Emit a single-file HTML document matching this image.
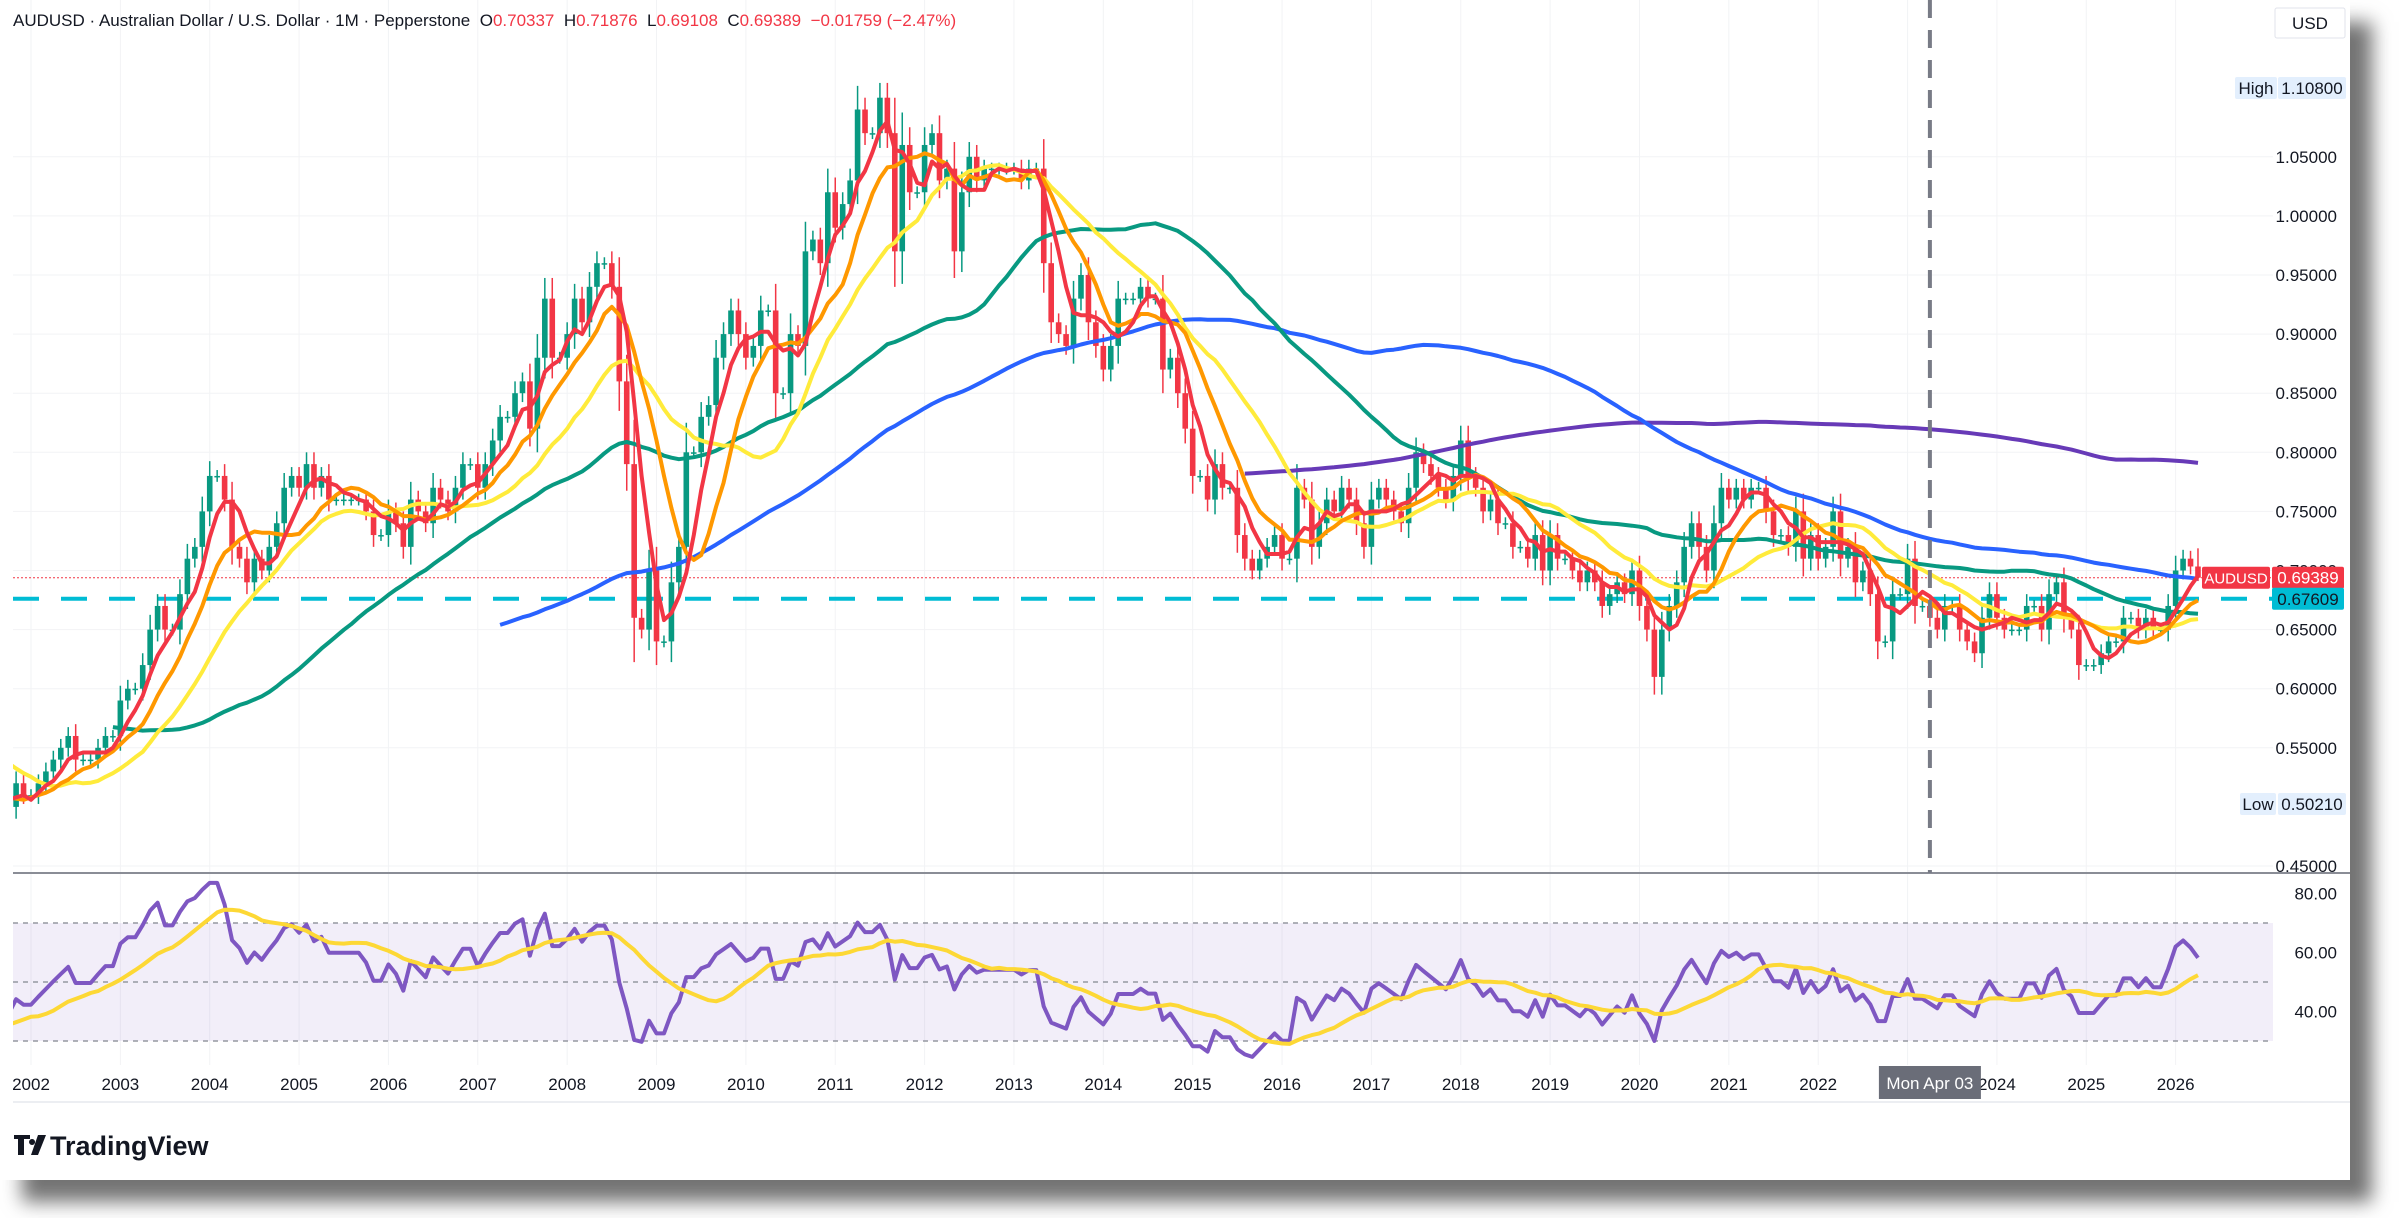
<!DOCTYPE html>
<html><head><meta charset="utf-8"><style>
html,body{margin:0;padding:0;background:#fff;width:2400px;height:1218px;overflow:hidden;font-family:"Liberation Sans",sans-serif}
#card{position:absolute;left:0;top:0;width:2350px;height:1180px;background:#fff;box-shadow:22px 22px 18px rgba(0,0,0,0.55)}
svg{position:absolute;left:0;top:0}
</style></head><body>
<div id="card"></div>
<svg id="chart" width="2400" height="1218"></svg>
<script>
const historyStart = 1999; // Jan 1999 (pre-chart history used for averages)
const preCloses = [0.63,0.63,0.63,0.66,0.64,0.66,0.65,0.64,0.65,0.64,0.64,0.65,
0.64,0.61,0.61,0.59,0.57,0.60,0.58,0.57,0.54,0.52,0.52,0.56,
0.53,0.52,0.49,0.50,0.51,0.51,0.50,0.53,0.49,0.50];
const closesVisible = [0.52,0.51,
0.51,0.52,0.53,0.54,0.55,0.56,0.54,0.54,0.54,0.55,0.56,0.56,
0.59,0.60,0.60,0.62,0.65,0.67,0.65,0.65,0.68,0.71,0.72,0.75,
0.78,0.78,0.76,0.72,0.71,0.69,0.71,0.70,0.72,0.74,0.77,0.78,
0.77,0.79,0.77,0.78,0.76,0.76,0.76,0.76,0.76,0.75,0.73,0.73,
0.75,0.74,0.72,0.76,0.75,0.74,0.77,0.76,0.75,0.77,0.79,0.79,
0.77,0.79,0.81,0.83,0.83,0.85,0.86,0.82,0.88,0.93,0.88,0.88,
0.90,0.93,0.91,0.94,0.96,0.96,0.94,0.86,0.79,0.66,0.65,0.70,
0.64,0.64,0.69,0.72,0.80,0.80,0.83,0.84,0.88,0.90,0.92,0.90,
0.88,0.89,0.92,0.92,0.85,0.85,0.90,0.89,0.97,0.98,0.96,1.02,
0.99,1.01,1.03,1.09,1.07,1.07,1.10,1.07,0.97,1.06,1.02,1.02,
1.06,1.07,1.03,1.04,0.97,1.02,1.05,1.03,1.04,1.04,1.04,1.04,
1.04,1.03,1.04,1.04,0.96,0.91,0.90,0.89,0.93,0.95,0.91,0.89,
0.87,0.89,0.93,0.93,0.93,0.94,0.93,0.93,0.87,0.88,0.85,0.82,
0.78,0.78,0.76,0.79,0.77,0.77,0.73,0.71,0.70,0.71,0.72,0.73,
0.71,0.71,0.77,0.76,0.72,0.74,0.76,0.75,0.77,0.76,0.74,0.72,
0.76,0.77,0.76,0.75,0.74,0.77,0.80,0.79,0.78,0.77,0.76,0.78,
0.81,0.78,0.77,0.75,0.76,0.74,0.74,0.72,0.72,0.71,0.73,0.70,
0.73,0.71,0.71,0.70,0.69,0.70,0.69,0.67,0.68,0.69,0.68,0.70,
0.67,0.65,0.61,0.65,0.67,0.69,0.72,0.74,0.72,0.70,0.74,0.77,
0.76,0.77,0.76,0.77,0.77,0.75,0.73,0.73,0.72,0.75,0.71,0.73,
0.71,0.72,0.75,0.71,0.72,0.69,0.70,0.68,0.64,0.64,0.68,0.68,
0.71,0.67,0.67,0.66,0.65,0.67,0.67,0.65,0.64,0.63,0.66,0.68,
0.66,0.65,0.65,0.65,0.67,0.67,0.65,0.68,0.69,0.66,0.65,0.62,
0.62,0.62,0.63,0.64,0.64,0.66,0.66,0.65,0.66,0.65,0.65,0.67,
0.70,0.71,0.7034,0.69389];
const priceTicks = [1.05,1.00,0.95,0.90,0.85,0.80,0.75,0.70,0.65,0.60,0.55,0.45];
const priceTickLabels = ["1.05000","1.00000","0.95000","0.90000","0.85000","0.80000","0.75000","0.70000","0.65000","0.60000","0.55000","0.45000"];
const rsiTicks = [80,60,40];
const rsiTickLabels = ["80.00","60.00","40.00"];
const yearLabels = ["2002","2003","2004","2005","2006","2007","2008","2009","2010","2011","2012","2013","2014","2015","2016","2017","2018","2019","2020","2021","2022","2023","2024","2025","2026"];
const maPeriods = [5,10,20,48,100,200];
const supportLevel = 0.67609;
const lastClose = 0.69389;
const lastOpen = 0.70337, lastHigh = 0.71876, lastLow = 0.69108;

const closes = preCloses.concat(closesVisible);
const firstVis = preCloses.length;
const svg = document.getElementById('chart');
const NS = 'http://www.w3.org/2000/svg';
const L = 13, R = 2273;
const xYear = t => 31 + (t - 2002) * 89.36;
const xIdx = i => xYear(historyStart + i/12);
const yP = p => 866 - (p - 0.45) / 0.05 * 59.1;
const yR = v => 982 - (v - 50) * 2.95;
function el(tag, attrs, parent){const e=document.createElementNS(NS,tag);for(const k in attrs)e.setAttribute(k,attrs[k]);(parent||svg).appendChild(e);return e;}
function txt(s, attrs){const t=el('text',attrs);t.textContent=s;return t;}

const defs = el('defs',{});
const cp = el('clipPath',{id:'mainclip'},defs); el('rect',{x:L,y:0,width:R-L,height:873},cp);
const cr = el('clipPath',{id:'rsiclip'},defs); el('rect',{x:L,y:875,width:R-L,height:190},cr);

const grid = el('g',{stroke:'#f2f3f5','stroke-width':1});


priceTicks.forEach(p=>el('line',{x1:L,x2:R,y1:yP(p),y2:yP(p)},grid));
yearLabels.forEach((y,i)=>el('line',{x1:xYear(2002+i),x2:xYear(2002+i),y1:0,y2:1065},grid));

const sep = el('line',{x1:L,x2:2350,y1:873,y2:873,stroke:'#8a8d96','stroke-width':2});


const bsep = el('line',{x1:L,x2:2350,y1:1102,y2:1102,stroke:'#eceef2','stroke-width':2});



const n = closes.length;
const opens = closes.map((c,i)=> i===0 ? c : closes[i-1]);
opens[n-1] = lastOpen;
const highs = closes.map((c,i)=> Math.max(c,opens[i]) + 0.25*Math.abs(c-opens[i]) + 0.005);
const lows = closes.map((c,i)=> Math.min(c,opens[i]) - 0.25*Math.abs(c-opens[i]) - 0.005);
highs[n-1]=lastHigh; lows[n-1]=lastLow;

const main = el('g',{'clip-path':'url(#mainclip)'});
const sup = el('line',{x1:L,x2:R,y1:yP(supportLevel),y2:yP(supportLevel),stroke:'#00bcd4','stroke-width':4,'stroke-dasharray':'26 22'},main);


const lp = el('line',{x1:L,x2:R,y1:yP(lastClose),y2:yP(lastClose),stroke:'#f23645','stroke-width':1,'stroke-dasharray':'2 2'},main);


const vl = el('line',{x1:xYear(2023.25),x2:xYear(2023.25),y1:0,y2:873,stroke:'#787b86','stroke-width':4,'stroke-dasharray':'18 12'});



const cg = el('g',{},main);


for(let i=firstVis;i<n;i++){
  const up = closes[i]>=opens[i];
  const col = up ? '#089981' : '#f23645';
  const x = xIdx(i);
  el('line',{x1:x,x2:x,y1:yP(highs[i]),y2:yP(lows[i]),stroke:col,'stroke-width':1.5},cg);
  const top = yP(Math.max(opens[i],closes[i])), bot = yP(Math.min(opens[i],closes[i]));
  const b = el('rect',{x:x-2.8,y:top,width:5.6,height:Math.max(1.5,bot-top),fill:col},cg);
  
  
}
function sma(a,p){return a.map((v,i)=> i<p-1?null: a.slice(i-p+1,i+1).reduce((s,x)=>s+x,0)/p);}
function path(vals, startI, color, width, name, yf, parent){
  let d='';vals.forEach((v,i)=>{if(v==null||i<startI)return;d+=(d?'L':'M')+xIdx(i).toFixed(1)+','+yf(v).toFixed(1);});
  const p = el('path',{d:d,fill:'none',stroke:color,'stroke-width':width,'stroke-linejoin':'round'},parent);
  
  
  return p;
}
path(sma(closes,maPeriods[5]),0,'#673ab7',4,'ma-purple',yP,main);
path(sma(closes,maPeriods[4]),0,'#2962ff',4,'ma-blue',yP,main);
path(sma(closes,maPeriods[3]),firstVis+8,'#089981',4,'ma-green',yP,main);
path(sma(closes,maPeriods[2]),0,'#ffeb3b',4,'ma-yellow',yP,main);
path(sma(closes,maPeriods[1]),0,'#ff9800',4,'ma-orange',yP,main);
path(sma(closes,maPeriods[0]),0,'#f23645',4,'ma-red',yP,main);

const rsi=[];{let ag=0,al=0;for(let i=0;i<n;i++){if(i===0){rsi.push(50);continue;}const ch=closes[i]-closes[i-1];const g=Math.max(ch,0),l=Math.max(-ch,0);const p=Math.min(i,14);ag=(ag*(p-1)+g)/p;al=(al*(p-1)+l)/p;rsi.push(al===0?70:100-100/(1+ag/al));}}
const rg = el('g',{'clip-path':'url(#rsiclip)'});
const band = el('rect',{x:L,y:yR(70),width:R-L,height:yR(30)-yR(70),fill:'rgba(126,87,194,0.1)'},rg);


[70,50,30].forEach(v=>{const l=el('line',{x1:L,x2:R,y1:yR(v),y2:yR(v),stroke:'#9598a1','stroke-width':1.5,'stroke-dasharray':'5 5'},rg);

});
path(rsi,firstVis-2,'#7e57c2',4,'rsi-line',yR,rg);
path(sma(rsi,14),firstVis-2,'#fdd835',4,'rsi-ma-line',yR,rg);

const ax = el('g',{'font-size':'17','fill':'#131722'});


priceTicks.forEach((p,i)=>{ax.appendChild(txt(priceTickLabels[i],{x:2337,y:yP(p)+6,'text-anchor':'end'}));});
rsiTicks.forEach((v,i)=>{ax.appendChild(txt(rsiTickLabels[i],{x:2337,y:yR(v)+6,'text-anchor':'end'}));});
const xa = el('g',{'font-size':'17','fill':'#131722'});


yearLabels.forEach((y,i)=>{if(y==='2023')return;xa.appendChild(txt(y,{x:xYear(2002+i),y:1090,'text-anchor':'middle'}));});
const db = el('g',{});


el('rect',{x:xYear(2023.25)-51,y:1066,width:102,height:33,fill:'#6a6d78'},db);
db.appendChild(txt('Mon Apr 03',{x:xYear(2023.25),y:1089,'text-anchor':'middle','font-size':'17',fill:'#fff'}));

function badge(x,y,w,h,fill,tcol,s,name){const g=el('g',{});
el('rect',{x:x,y:y,width:w,height:h,fill:fill,rx:2},g);g.appendChild(txt(s,{x:x+w/2,y:y+h/2+6,'font-size':'17',fill:tcol,'text-anchor':'middle'}));return g;}
badge(2275,8,70,30,'#fff','#131722','USD','currency-button').querySelector('rect').setAttribute('stroke','#e0e3eb');
badge(2235,77,42,22,'#e3effd','#131722','High','high-label');
badge(2278,77,68,22,'#e3effd','#131722','1.10800','high-value');
badge(2240,793,36,22,'#e3effd','#131722','Low','low-label');
badge(2278,793,68,22,'#e3effd','#131722','0.50210','low-value');
const sb = badge(2202,yP(lastClose)-11,68,22,'#f23645','#fff','AUDUSD','symbol-price-label');
sb.querySelector('text').setAttribute('font-size','15');
badge(2272,yP(lastClose)-11,72,22,'#f23645','#fff','0.69389','last-price-value');
badge(2272,yP(supportLevel)-11,72,22,'#00bcd4','#131722','0.67609','support-value');

const hd = el('text',{x:13,y:26,'font-size':'17',fill:'#131722',style:'white-space:pre'});


hd.innerHTML='AUDUSD · Australian Dollar / U.S. Dollar · 1M · Pepperstone  O<tspan fill="#f23645">0.70337</tspan>  H<tspan fill="#f23645">0.71876</tspan>  L<tspan fill="#f23645">0.69108</tspan>  C<tspan fill="#f23645">0.69389</tspan>  <tspan fill="#f23645">−0.01759 (−2.47%)</tspan>';
const lg = el('g',{});


el('path',{d:'M14 1135h16v4h-6v16h-6v-16h-4z M32 1139a3 3 0 1 0 0.1 0z M38 1135h8l-8 20h-7z',fill:'#131722'},lg);
lg.appendChild(txt('TradingView',{x:50,y:1155,'font-size':'27','font-weight':'bold',fill:'#131722'}));
</script>
</body></html>
